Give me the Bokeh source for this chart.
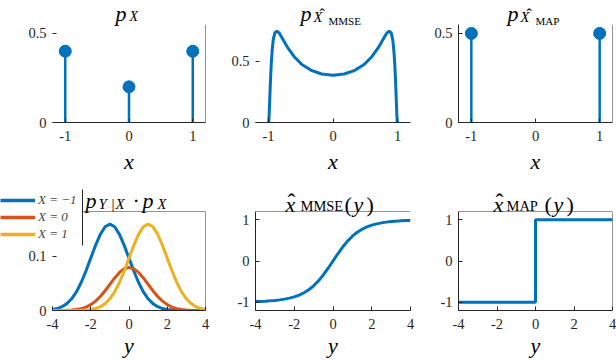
from bokeh.plotting import figure
from bokeh.layouts import column
from bokeh.models import (Range1d, Label, Span, Legend, LegendItem, FixedTicker, GridBox,
                          BoxAnnotation)
from bokeh.embed import file_html
from bokeh.resources import INLINE

BLUE = "#0072BD"
ORANGE = "#D95319"
YELLOW = "#EDB120"
INK = "#262626"
FONT = "Liberation Serif, serif"

# ---------------- data ----------------
px_support = [-1, 0, 1]
px_prob = [0.4, 0.2, 0.4]

mmse_x = [-0.998, -0.994, -0.991, -0.985, -0.980, -0.974, -0.966, -0.956, -0.942, -0.925,
          -0.901, -0.869, -0.826, -0.770, -0.696, -0.601, -0.482, -0.338, -0.175, 0.0,
          0.175, 0.338, 0.482, 0.601, 0.696, 0.770, 0.826, 0.869, 0.901, 0.925,
          0.942, 0.956, 0.966, 0.974, 0.980, 0.985, 0.991, 0.994, 0.998]
mmse_pdf = [0.000, 0.009, 0.037, 0.113, 0.179, 0.265, 0.368, 0.481, 0.588, 0.676,
            0.731, 0.747, 0.725, 0.674, 0.607, 0.537, 0.474, 0.426, 0.396, 0.386,
            0.396, 0.426, 0.474, 0.537, 0.607, 0.674, 0.725, 0.747, 0.731, 0.676,
            0.588, 0.481, 0.368, 0.265, 0.179, 0.113, 0.037, 0.009, 0.000]

map_support = [-1, 1]
map_prob = [0.5, 0.5]

y_grid = [-4, -3.75, -3.5, -3.25, -3, -2.75, -2.5, -2.25, -2, -1.75, -1.5, -1.25, -1,
          -0.75, -0.5, -0.25, 0, 0.25, 0.5, 0.75, 1, 1.25, 1.5, 1.75, 2, 2.25, 2.5,
          2.75, 3, 3.25, 3.5, 3.75, 4]
joint_xm1 = [0.0018, 0.0036, 0.0070, 0.0127, 0.0216, 0.0345, 0.0518, 0.0730, 0.0968, 0.1204,
             0.1408, 0.1547, 0.1596, 0.1547, 0.1408, 0.1204, 0.0968, 0.0730, 0.0518, 0.0345,
             0.0216, 0.0127, 0.0070, 0.0036, 0.0018, 0.0008, 0.0003, 0.0001, 0.0001, 0.0000,
             0.0000, 0.0000, 0.0000]
joint_x0 = [0.0000, 0.0001, 0.0002, 0.0004, 0.0009, 0.0018, 0.0035, 0.0063, 0.0108, 0.0173,
            0.0259, 0.0365, 0.0484, 0.0602, 0.0704, 0.0773, 0.0798, 0.0773, 0.0704, 0.0602,
            0.0484, 0.0365, 0.0259, 0.0173, 0.0108, 0.0063, 0.0035, 0.0018, 0.0009, 0.0004,
            0.0002, 0.0001, 0.0000]
joint_xp1 = [0.0000, 0.0000, 0.0000, 0.0000, 0.0001, 0.0001, 0.0003, 0.0008, 0.0018, 0.0036,
             0.0070, 0.0127, 0.0216, 0.0345, 0.0518, 0.0730, 0.0968, 0.1204, 0.1408, 0.1547,
             0.1596, 0.1547, 0.1408, 0.1204, 0.0968, 0.0730, 0.0518, 0.0345, 0.0216, 0.0127,
             0.0070, 0.0036, 0.0018]
legend_labels = ["X = \u22121", "X = 0", "X = 1"]

xmmse_est = [-0.9845, -0.9799, -0.9740, -0.9662, -0.9559, -0.9424, -0.9245, -0.9006, -0.8688,
             -0.8264, -0.7702, -0.6963, -0.6010, -0.4818, -0.3384, -0.1750, 0.0, 0.1750,
             0.3384, 0.4818, 0.6010, 0.6963, 0.7702, 0.8264, 0.8688, 0.9006, 0.9245, 0.9424,
             0.9559, 0.9662, 0.9740, 0.9799, 0.9845]

map_y = [-4, 0, 0, 4]
xmap_est = [-1, -1, 1, 1]

top_xticks = [-1, 0, 1]
top_xtick_labels = ["-1", "0", "1"]
bot_xticks = [-4, -2, 0, 2, 4]
bot_xtick_labels = ["-4", "-2", "0", "2", "4"]
prob_yticks = [0, 0.5]
prob_ytick_labels = ["0", "0.5"]
joint_yticks = [0, 0.1]
joint_ytick_labels = ["0", "0.1"]
est_yticks = [-1, 0, 1]
est_ytick_labels = ["-1", "0", "1"]

# ---------------- layout (px) ----------------
TOTAL_W, TOTAL_H = 616, 360
# (figure width, left border, right border) per column
WCOL = [(210, 52, 5), (205, 45, 5), (201, 43, 4)]
# (figure height, top border, bottom border) per row
HROW = [(185, 24, 63), (175, 26, 50)]


def make_fig(col, row, xr, yr, xt, xtl, yt, ytl, xlabel, spines, label_standoff):
    w, lb, rb = WCOL[col]
    h, tb, bb = HROW[row]
    p = figure(width=w, height=h, x_range=Range1d(*xr), y_range=Range1d(*yr),
               output_backend="svg", toolbar_location=None, title=None,
               min_border_left=lb, min_border_right=rb, min_border_top=tb,
               min_border_bottom=bb)
    p.outline_line_color = None
    p.xgrid.visible = False
    p.ygrid.visible = False
    p.background_fill_color = "white"
    p.border_fill_color = "white"
    for ax in (p.xaxis[0], p.yaxis[0]):
        ax.major_tick_in = 4
        ax.major_tick_out = 0
        ax.minor_tick_line_color = None
        ax.major_tick_line_color = INK
        ax.axis_line_color = INK
        ax.major_label_text_font = FONT
        ax.major_label_text_font_size = "14.5px"
        ax.major_label_text_color = INK
    p.xaxis.major_label_standoff = 8
    p.yaxis.major_label_standoff = 6
    p.xaxis.ticker = FixedTicker(ticks=xt)
    p.xaxis.major_label_overrides = dict(zip(xt, xtl))
    p.yaxis.ticker = FixedTicker(ticks=yt)
    p.yaxis.major_label_overrides = dict(zip(yt, ytl))
    p.xaxis.axis_label = xlabel
    p.xaxis.axis_label_text_font = FONT
    p.xaxis.axis_label_text_font_style = "italic"
    p.xaxis.axis_label_text_font_size = "22px"
    p.xaxis.axis_label_text_color = "black"
    p.xaxis.axis_label_standoff = label_standoff
    if "left" not in spines:
        p.yaxis.axis_line_color = None
    if "right" in spines:
        p.add_layout(Span(location=xr[1], dimension="height", line_color=INK, line_width=1))
    if "top" in spines:
        p.add_layout(Span(location=yr[1], dimension="width", line_color=INK, line_width=1))
    return p


# ---- top-left: p_X ----
p1 = make_fig(0, 0, (-1.2, 1.2), (0, 0.55), top_xticks, top_xtick_labels, prob_yticks,
              prob_ytick_labels, "x", ["right"], 5)
p1.segment(x0=px_support, y0=[0] * len(px_support), x1=px_support, y1=px_prob,
           line_color=BLUE, line_width=2.5)
p1.scatter(px_support, px_prob, size=12, fill_color=BLUE, line_color=BLUE)

# ---- top-middle: density of the MMSE estimate ----
p2 = make_fig(1, 0, (-1.2, 1.2), (0, 0.8), top_xticks, top_xtick_labels, prob_yticks,
              prob_ytick_labels, "x", [], 5)
p2.line(mmse_x, mmse_pdf, line_color=BLUE, line_width=3)

# ---- top-right: pmf of the MAP estimate ----
p3 = make_fig(2, 0, (-1.2, 1.2), (0, 0.55), top_xticks, top_xtick_labels, prob_yticks,
              prob_ytick_labels, "x", ["left", "right"], 5)
p3.segment(x0=map_support, y0=[0] * len(map_support), x1=map_support, y1=map_prob,
           line_color=BLUE, line_width=2.5)
p3.scatter(map_support, map_prob, size=12, fill_color=BLUE, line_color=BLUE)

# ---- bottom-left: p_{Y|X} p_X ----
p4 = make_fig(0, 1, (-4, 4), (0, 0.183), bot_xticks, bot_xtick_labels, joint_yticks,
              joint_ytick_labels, "y", ["right", "top"], 1)
p4.line(y_grid, joint_xm1, line_color=BLUE, line_width=3)
p4.line(y_grid, joint_x0, line_color=ORANGE, line_width=3)
p4.line(y_grid, joint_xp1, line_color=YELLOW, line_width=3)

# ---- bottom-middle: MMSE estimator ----
p5 = make_fig(1, 1, (-4, 4), (-1.2, 1.2), bot_xticks, bot_xtick_labels, est_yticks,
              est_ytick_labels, "y", ["left", "top"], 1)
p5.line(y_grid, xmmse_est, line_color=BLUE, line_width=3)

# ---- bottom-right: MAP estimator ----
p6 = make_fig(2, 1, (-4, 4), (-1.2, 1.2), bot_xticks, bot_xtick_labels, est_yticks,
              est_ytick_labels, "y", ["left", "right", "top"], 1)
p6.line(map_y, xmap_est, line_color=BLUE, line_width=3)

grid = GridBox(children=[(p1, 0, 0), (p2, 0, 1), (p3, 0, 2),
                         (p4, 1, 0), (p5, 1, 1), (p6, 1, 2)])

# ---- transparent overlay (pixel coordinates) carrying panel titles and the legend ----
ov = figure(width=TOTAL_W, height=TOTAL_H, x_range=Range1d(0, TOTAL_W),
            y_range=Range1d(TOTAL_H, 0), x_axis_type=None, y_axis_type=None,
            output_backend="svg", toolbar_location=None, title=None, min_border=0)
ov.xgrid.visible = False
ov.ygrid.visible = False
ov.outline_line_color = None
ov.background_fill_color = None
ov.border_fill_color = None
ov.margin = (-TOTAL_H, 0, 0, 0)


def put(text, px, base, size, style="italic"):
    ov.add_layout(Label(x=px, y=base, text=text, text_font=FONT, text_font_style=style,
                        text_font_size=f"{size}px", text_color="black",
                        text_align="left", text_baseline="alphabetic"))


HAT = "\u02c6"
# p_X
put("p", 115, 12.5, 22)
put("X", 129, 15.5, 14)
# p_{X^MMSE}
put("p", 300, 12.5, 22)
put("X", 313, 16.5, 14.5)
put(HAT, 319, 13.5, 16, "normal")
put("MMSE", 328, 20.5, 11, "normal")
# p_{X^MAP}
put("p", 507, 12.5, 22)
put("X", 520, 16.5, 14.5)
put(HAT, 526, 13.5, 16, "normal")
put("MAP", 535, 20.5, 11, "normal")
# p_{Y|X} . p_X
put("p", 85, 200, 22)
put("Y", 98, 203, 15)
put("|", 111, 203, 15, "normal")
put("X", 115, 203, 15)
put("\u00b7", 132, 200, 22, "normal")
put("p", 142, 200, 22)
put("X", 157, 203, 14.5)
# x^_MMSE(y)
put("x", 285, 204, 22)
put(HAT, 287, 201, 24, "normal")
put("MMSE", 300, 205, 14.5, "normal")
put("(", 344, 204, 22, "normal")
put("y", 353, 204, 22)
put(")", 366, 204, 22, "normal")
# x^_MAP(y)
put("x", 493, 204, 22)
put(HAT, 495, 201, 24, "normal")
put("MAP", 506, 205, 14.5, "normal")
put("(", 544, 204, 22, "normal")
put("y", 553, 204, 22)
put(")", 566, 204, 22, "normal")

nan = float("nan")
leg_r = [ov.line(x=[nan], y=[nan], line_color=c, line_width=3.5)
         for c in (BLUE, ORANGE, YELLOW)]
leg = Legend(items=[LegendItem(label=legend_labels[i], renderers=[r])
                    for i, r in enumerate(leg_r)],
             location=(0, 118), padding=0, margin=0, spacing=1,
             glyph_width=35, glyph_height=14, label_height=14, label_standoff=3,
             label_width=44,
             label_text_font=FONT, label_text_font_size="13px",
             label_text_font_style="italic",
             border_line_color=None, background_fill_color="white",
             background_fill_alpha=1)
ov.add_layout(leg)
ov.add_layout(BoxAnnotation(left=81.5, right=82.5, top=189, bottom=245,
                            fill_color=INK, fill_alpha=1, line_color=None))

layout = column(grid, ov, spacing=0)

open("out.html", "w").write(file_html(layout, INLINE))
